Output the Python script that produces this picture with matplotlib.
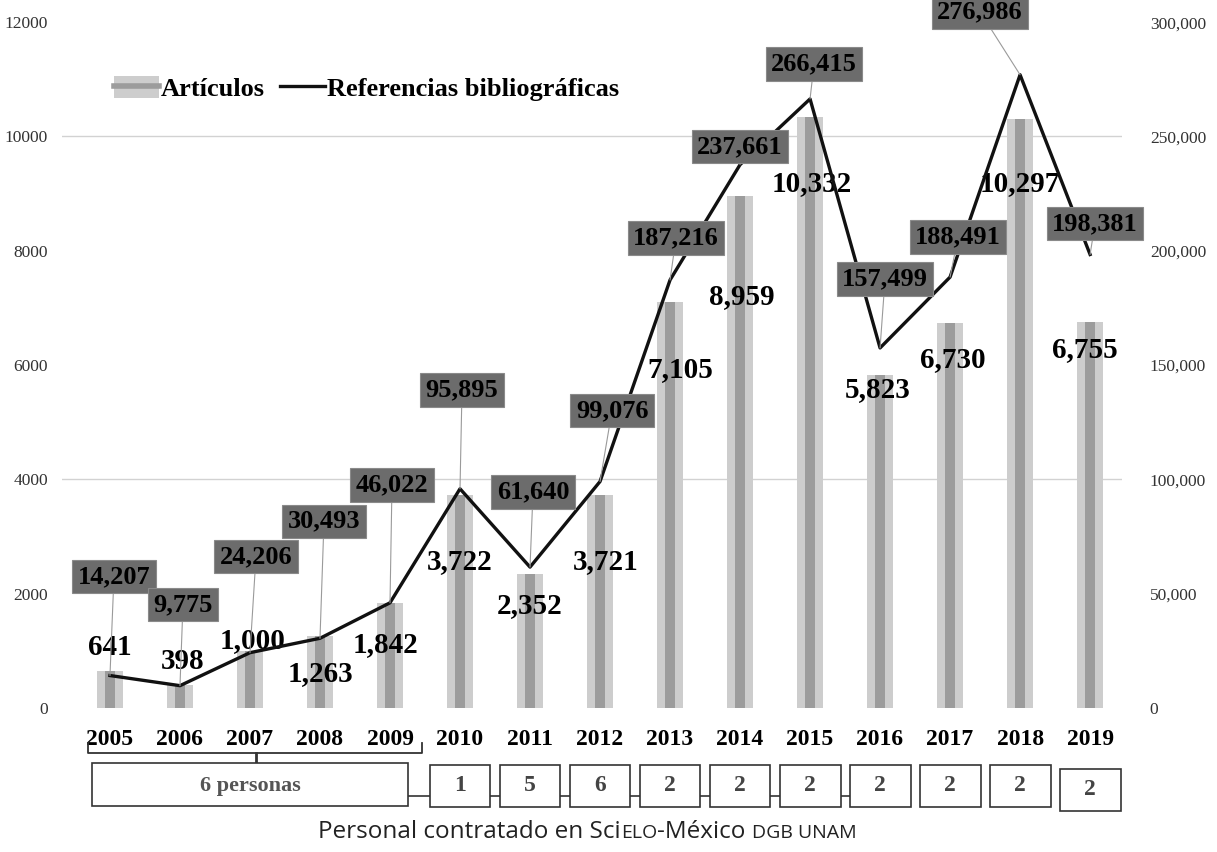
import matplotlib
matplotlib.use("Agg")
import matplotlib.pyplot as plt
import matplotlib.transforms as mtransforms
from matplotlib.patches import Patch, Rectangle
from matplotlib.lines import Line2D
from matplotlib.legend_handler import HandlerTuple

# data
years = ["2005", "2006", "2007", "2008", "2009", "2010", "2011", "2012",
         "2013", "2014", "2015", "2016", "2017", "2018", "2019"]
articles = [641, 398, 1000, 1263, 1842, 3722, 2352, 3721,
            7105, 8959, 10332, 5823, 6730, 10297, 6755]
references = [14207, 9775, 24206, 30493, 46022, 95895, 61640, 99076,
              187216, 237661, 266415, 157499, 188491, 276986, 198381]
staff_group_label = "6 personas"
staff_counts = ["1", "5", "6", "2", "2", "2", "2", "2", "2", "2"]

left_ticks = [0, 2000, 4000, 6000, 8000, 10000, 12000]
right_ticks = [0, 50000, 100000, 150000, 200000, 250000, 300000]
grid_levels = [4000, 10000]

# label placement (offsets in pixels from the point / bar top)
ref_offsets = [(4, 99), (3, 81), (6, 96), (4, 117), (2, 118), (2, 99), (3, 75),
               (12, 71), (6, 42), (0, 18), (4, 35), (5, 69), (8, 40), (-40, 63),
               (5, 31)]
art_offsets = [(0, 24), (3, 24), (3, 10), (0, -38), (-5, -42), (0, -66), (0, -32),
               (6, -66), (10, -68), (2, -101), (2, -66), (-2, -14), (3, -36),
               (0, -64), (-5, -28)]

SERIF = "Liberation Serif"


def main():
    fig = plt.figure(figsize=(12.17, 8.52), dpi=100)
    ax = fig.add_axes([0.0509, 0.169, 0.8711, 0.805])
    ax2 = ax.twinx()

    x = list(range(len(years)))

    # bars: light outer body with a darker core
    ax.bar(x, articles, width=0.36, color="#cdcdcd", zorder=2)
    ax.bar(x, articles, width=0.15, color="#9c9c9c", zorder=3)
    for lvl in grid_levels:
        ax.axhline(lvl, color="#d2d2d2", lw=1, zorder=1)

    ax2.plot(x, references, color="#111111", lw=2.4, zorder=3)

    ax.set_xlim(-0.686, 14.457)
    ax.set_ylim(0, 12000)
    ax2.set_ylim(0, 300000)

    ax.set_yticks(left_ticks)
    ax.set_yticklabels([str(t) for t in left_ticks])
    ax2.set_yticks(right_ticks)
    ax2.set_yticklabels([f"{t:,}" for t in right_ticks])
    ax.set_xticks(x)
    ax.set_xticklabels(years)

    for a in (ax, ax2):
        for s in a.spines.values():
            s.set_visible(False)
        a.tick_params(length=0)
    ax.tick_params(axis="y", pad=10, labelsize=12.5, labelcolor="#333333")
    ax2.tick_params(axis="y", pad=20, labelsize=12.5, labelcolor="#333333")
    ax.tick_params(axis="x", pad=15)
    for lab in ax.get_yticklabels() + ax2.get_yticklabels():
        lab.set_family(SERIF)
    for lab in ax.get_xticklabels():
        lab.set_family(SERIF)
        lab.set_fontweight("bold")
        lab.set_fontsize(17)

    # value labels
    for i, v in enumerate(articles):
        dx, dy = art_offsets[i]
        ax.annotate(f"{v:,}", xy=(i, v), xytext=(dx, dy), textcoords="offset pixels",
                    ha="center", va="center", family=SERIF, fontweight="bold",
                    fontsize=21, color="black", zorder=6)
    for i, v in enumerate(references):
        dx, dy = ref_offsets[i]
        ax2.annotate(f"{v:,}", xy=(i, v), xytext=(dx, dy), textcoords="offset pixels",
                     ha="center", va="center", family=SERIF, fontweight="bold",
                     fontsize=19, color="black", zorder=6,
                     bbox=dict(boxstyle="square,pad=0.2", fc="#6c6c6c", ec="#8a8a8a", lw=0.8),
                     arrowprops=dict(arrowstyle="-", color="#9a9a9a", lw=0.8,
                                     shrinkA=0, shrinkB=0))

    # legend
    handles = [(Patch(facecolor="#cdcdcd", edgecolor="none"),
                Line2D([], [], color="#9c9c9c", lw=4)),
               Line2D([], [], color="#111111", lw=2.4)]
    ax2.legend(handles, ["Artículos", "Referencias bibliográficas"],
               handler_map={tuple: HandlerTuple(ndivide=1)},
               loc="upper left", bbox_to_anchor=(0.037, 0.94), ncol=2,
               frameon=False, borderpad=0, handlelength=1.7, handleheight=0.85,
               handletextpad=0.05, columnspacing=0.6,
               prop=dict(family=SERIF, weight="bold", size=19))

    # staff boxes under the years
    tr = mtransforms.blended_transform_factory(ax.transData, ax.transAxes)
    bx = [-0.314, -0.314, 4.457, 4.457]
    by = [-0.051, -0.0656, -0.0656, -0.051]
    ax.plot(bx, by, color="#333333", lw=1.3, transform=tr, clip_on=False)
    ax.plot([2.086, 2.086], [-0.0656, -0.087], color="#333333", lw=2,
            transform=tr, clip_on=False)
    ax.plot([4.257, 10.586], [-0.1283, -0.1283], color="#333333", lw=1.2,
            transform=tr, clip_on=False, zorder=1)
    ax.add_patch(Rectangle((-0.257, -0.1429), 4.514, 0.0627, transform=tr,
                           fc="white", ec="#333333", lw=1.2, clip_on=False, zorder=2))
    ax.text(2.0, -0.1137, staff_group_label, transform=tr, ha="center", va="center",
            family=SERIF, fontweight="bold", fontsize=16, color="#555555")
    for k, n in enumerate(staff_counts):
        xi = 5 + k
        y0 = -0.150 if k == len(staff_counts) - 1 else -0.1443
        ax.add_patch(Rectangle((xi - 0.435, y0), 0.87, 0.0612, transform=tr,
                               fc="white", ec="#333333", lw=1.2, clip_on=False, zorder=2))
        ax.text(xi, y0 + 0.0306, n, transform=tr, ha="center", va="center",
                family=SERIF, fontweight="bold", fontsize=17, color="#444444")

    # caption, small caps pieces placed one after the other on a common baseline
    renderer = fig.canvas.get_renderer()
    x_px = 0.2613 * fig.bbox.width
    base_px = 0.0164 * fig.bbox.height
    pieces = [("Personal contratado en Sci", 17.5), ("ELO", 14),
              ("-México ", 17.5), ("DGB UNAM", 14)]
    for piece, size in pieces:
        t = fig.text(x_px, base_px, piece, transform=None, family="Open Sans",
                     fontsize=size, color="#222222", va="baseline", ha="left")
        x_px = t.get_window_extent(renderer).x1

    fig.savefig("out.png", dpi=100)
    plt.close(fig)


if __name__ == "__main__":
    main()
